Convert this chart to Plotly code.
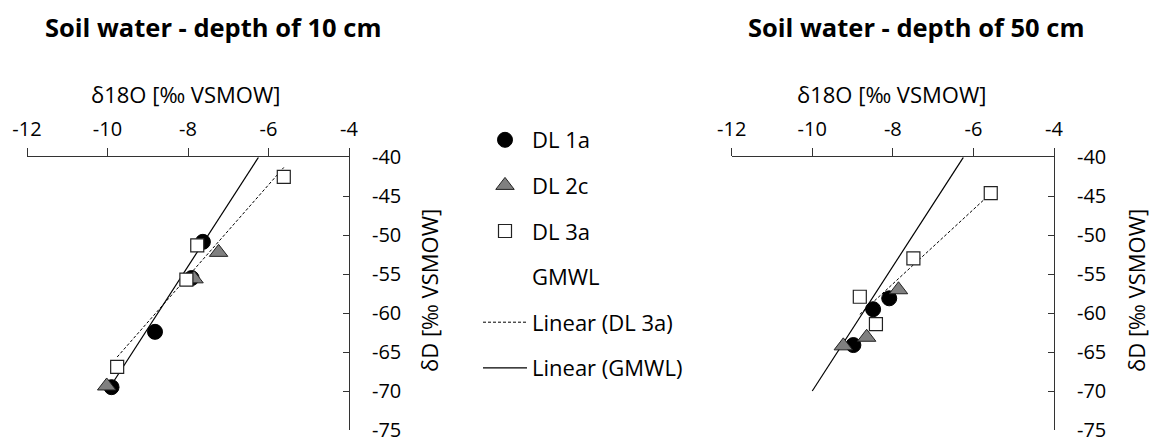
import numpy as np
import plotly.graph_objects as go

# ---------------- data ----------------
# Left panel: soil water, depth of 10 cm
dl1a_10_x = [-7.63, -7.91, -8.82, -9.90]
dl1a_10_y = [-50.85, -55.5, -62.4, -69.5]
dl2c_10_x = [-7.24, -7.85, -10.02]
dl2c_10_y = [-52.2, -55.6, -69.35]
dl3a_10_x = [-5.62, -7.77, -8.04, -9.76]
dl3a_10_y = [-42.5, -51.3, -55.7, -66.9]

# Right panel: soil water, depth of 50 cm
dl1a_50_x = [-8.09, -8.49, -8.98]
dl1a_50_y = [-58.1, -59.5, -64.1]
dl2c_50_x = [-7.86, -8.65, -9.23]
dl2c_50_y = [-57.0, -63.1, -64.2]
dl3a_50_x = [-5.57, -7.49, -8.82, -8.42]
dl3a_50_y = [-44.6, -52.96, -57.9, -61.4]

# Global meteoric water line
gmwl_x = [-10.0, -6.25]
gmwl_y = [-70.0, -40.0]

titles = ["Soil water - depth of 10 cm", "Soil water - depth of 50 cm"]
x_title = "δ18O [‰ VSMOW]"
y_title = "δD [‰ VSMOW]"
x_ticks = [-12, -10, -8, -6, -4]
x_ticktext = ["-12", "-10", "-8", "-6", "-4"]
y_ticks = [-40, -45, -50, -55, -60, -65, -70, -75]
y_ticktext = ["-40", "-45", "-50", "-55", "-60", "-65", "-70", "-75"]

FONT = "'Open Sans', Lato, sans-serif"
W, H = 1152, 444


def trend(xs, ys):
    k, b = np.polyfit(xs, ys, 1)
    xx = np.array([min(xs), max(xs)])
    return xx, k * xx + b


fig = go.Figure()

panels = [
    (dl1a_10_x, dl1a_10_y, dl2c_10_x, dl2c_10_y, dl3a_10_x, dl3a_10_y, "x", "y", True),
    (dl1a_50_x, dl1a_50_y, dl2c_50_x, dl2c_50_y, dl3a_50_x, dl3a_50_y, "x2", "y2", False),
]

for (ax, ay, bx, by, cx, cy, xa, ya, show) in panels:
    gx, gy = trend(gmwl_x, gmwl_y)
    tx, ty = trend(cx, cy)
    fig.add_trace(go.Scatter(x=gx, y=gy, mode="lines", name="Linear (GMWL)",
                             line=dict(color="black", width=1.2), xaxis=xa, yaxis=ya,
                             showlegend=show, legendgroup="g6", legendrank=6))
    fig.add_trace(go.Scatter(x=tx, y=ty, mode="lines", name="Linear (DL 3a)",
                             line=dict(color="black", width=1, dash="3px,2px"), xaxis=xa, yaxis=ya,
                             showlegend=show, legendgroup="g5", legendrank=5))
    fig.add_trace(go.Scatter(x=gmwl_x, y=gmwl_y, mode="markers", name="GMWL",
                             marker=dict(size=10, color="rgba(0,0,0,0)", line=dict(width=0)),
                             xaxis=xa, yaxis=ya, showlegend=show, legendgroup="g4", legendrank=4))
    fig.add_trace(go.Scatter(x=ax, y=ay, mode="markers", name="DL 1a",
                             marker=dict(symbol="circle", size=15, color="black",
                                         line=dict(color="black", width=1)),
                             xaxis=xa, yaxis=ya, showlegend=show, legendgroup="g1", legendrank=1))
    fig.add_trace(go.Scatter(x=bx, y=by, mode="markers", name="DL 2c",
                             marker=dict(symbol="triangle-up", size=16, color="#808080",
                                         line=dict(color="#222222", width=1)),
                             xaxis=xa, yaxis=ya, showlegend=show, legendgroup="g2", legendrank=2))
    fig.add_trace(go.Scatter(x=cx, y=cy, mode="markers", name="DL 3a",
                             marker=dict(symbol="square", size=13, color="white",
                                         line=dict(color="#222222", width=1.2)),
                             xaxis=xa, yaxis=ya, showlegend=show, legendgroup="g3", legendrank=3))

ydom = [1 - 430.0 / H, 1 - 157.3 / H]
xdoms = [[27 / W, 349 / W], [731.7 / W, 1054 / W]]

axis_common = dict(showgrid=False, zeroline=False, showline=True, linecolor="#333333",
                   linewidth=1, tickcolor="#333333", tickwidth=1, automargin=False,
                   ticklabeloverflow="allow",
                   tickfont=dict(family=FONT, size=20, color="black"))

for i, suf in enumerate(["", "2"]):
    fig.layout["xaxis" + suf] = dict(
        axis_common, domain=xdoms[i], range=[-12, -4], side="top", ticks="outside",
        ticklen=8, tickvals=x_ticks, ticktext=x_ticktext, anchor="y" + suf,
        ticklabelstandoff=4)
    fig.layout["yaxis" + suf] = dict(
        axis_common, domain=ydom, range=[-75, -40], side="right", ticks="inside",
        ticklen=6, tickvals=y_ticks, ticktext=y_ticktext, anchor="x" + suf,
        ticklabelstandoff=18)

annotations = []
for cx_, label in zip([213, 916], titles):
    annotations.append(dict(text="<b>" + label + "</b>", x=cx_ / W, y=1 - 27 / H,
                            xref="paper", yref="paper", showarrow=False,
                            font=dict(family=FONT, size=25.5, color="black"),
                            xanchor="center", yanchor="middle"))
for cx_ in [185, 891]:
    annotations.append(dict(text=x_title, x=cx_ / W, y=1 - 94 / H, xref="paper", yref="paper",
                            showarrow=False, font=dict(family=FONT, size=22, color="black"),
                            xanchor="center", yanchor="middle"))
for cx_ in [429, 1136]:
    annotations.append(dict(text=y_title, x=cx_ / W, y=1 - 291 / H, xref="paper", yref="paper",
                            showarrow=False, textangle=-90,
                            font=dict(family=FONT, size=22, color="black"),
                            xanchor="center", yanchor="middle"))

fig.update_layout(
    width=W, height=H, margin=dict(l=0, r=0, t=0, b=0, autoexpand=False),
    paper_bgcolor="white", plot_bgcolor="white",
    annotations=annotations,
    legend=dict(x=478 / W, y=1 - 119 / H, xanchor="left", yanchor="top",
                font=dict(family=FONT, size=22, color="black"),
                tracegroupgap=14, bgcolor="rgba(0,0,0,0)", itemwidth=44,
                traceorder="grouped"),
)

fig.write_html("out.html")
